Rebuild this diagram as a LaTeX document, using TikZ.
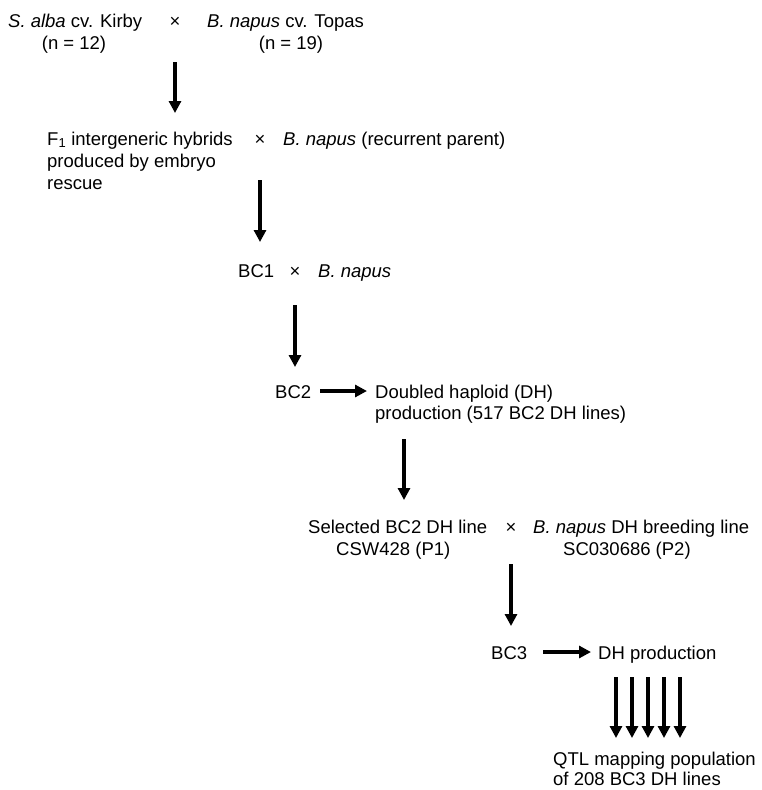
\documentclass[tikz,border=0pt]{standalone}
\usepackage{fontspec}
\setmainfont{Liberation Sans}
\usetikzlibrary{arrows.meta}
\begin{document}
\begin{tikzpicture}[x=1pt,y=-1pt,
  lbl/.style={inner sep=0pt, anchor=base west, font=\fontsize{18.5}{21.7}\selectfont},
  clbl/.style={lbl, anchor=base},
  arr/.style={line width=3.3pt, -{Triangle[width=12pt,length=12pt]}}]
\useasboundingbox[fill=white] (0,0) rectangle (761,790);
% generation 0
\node[lbl]  (salba) at (8,27)   {\textit{S. alba} cv. Kirby};
\node[clbl] (x1)    at (175,27) {×};
\node[lbl]  (bnap1) at (207,27) {\textit{B. napus} cv. Topas};
\node[clbl] (n12)   at (74,49)  {(n = 12)};
\node[clbl] (n19)   at (291,49) {(n = 19)};
\coordinate (a1s) at (175,62); \coordinate (a1e) at (175,113);
\draw[arr] (a1s) -- (a1e);
% F1
\node[lbl]  (f1a) at (47,145) {F\textsubscript{1} intergeneric hybrids};
\node[lbl]  (f1b) at (47,167) {produced by embryo};
\node[lbl]  (f1c) at (47,189) {rescue};
\node[clbl] (x2)  at (260,145) {×};
\node[lbl]  (rec) at (283,145) {\textit{B. napus} (recurrent parent)};
\coordinate (a2s) at (260,180); \coordinate (a2e) at (260,242);
\draw[arr] (a2s) -- (a2e);
% BC1
\node[lbl]  (bc1) at (238,277) {BC1};
\node[clbl] (x3)  at (295,277) {×};
\node[lbl]  (bn3) at (318,277) {\textit{B. napus}};
\coordinate (a3s) at (295,305); \coordinate (a3e) at (295,367);
\draw[arr] (a3s) -- (a3e);
% BC2
\node[lbl] (bc2) at (275,398) {BC2};
\node[lbl] (dh1) at (375,398) {Doubled haploid (DH)};
\node[lbl] (dh2) at (375,419.5) {production (517 BC2 DH lines)};
\coordinate (h1s) at (320,391); \coordinate (h1e) at (367,391);
\draw[arr] (h1s) -- (h1e);
\coordinate (a4s) at (404,439); \coordinate (a4e) at (404,500);
\draw[arr] (a4s) -- (a4e);
% selected
\node[lbl]  (sel1) at (308,533) {Selected BC2 DH line};
\node[lbl]  (sel2) at (336,555) {CSW428 (P1)};
\node[clbl] (x4)   at (511,533) {×};
\node[lbl]  (br1)  at (533,533) {\textit{B. napus} DH breeding line};
\node[lbl]  (br2)  at (563,555) {SC030686 (P2)};
\coordinate (a5s) at (511,564); \coordinate (a5e) at (511,626);
\draw[arr] (a5s) -- (a5e);
% BC3
\node[lbl] (bc3) at (491,659) {BC3};
\node[lbl] (dhp) at (598,659) {DH production};
\coordinate (h2s) at (543,652); \coordinate (h2e) at (591,652);
\draw[arr] (h2s) -- (h2e);
\foreach \i/\xx in {1/616,2/632,3/648,4/664,5/680}{
  \coordinate (m\i s) at (\xx,677); \coordinate (m\i e) at (\xx,738);
  \draw[arr] (m\i s) -- (m\i e);
}
\node[lbl] (qtl1) at (553,765) {QTL mapping population};
\node[lbl] (qtl2) at (553,785) {of 208 BC3 DH lines};
\end{tikzpicture}
\end{document}
